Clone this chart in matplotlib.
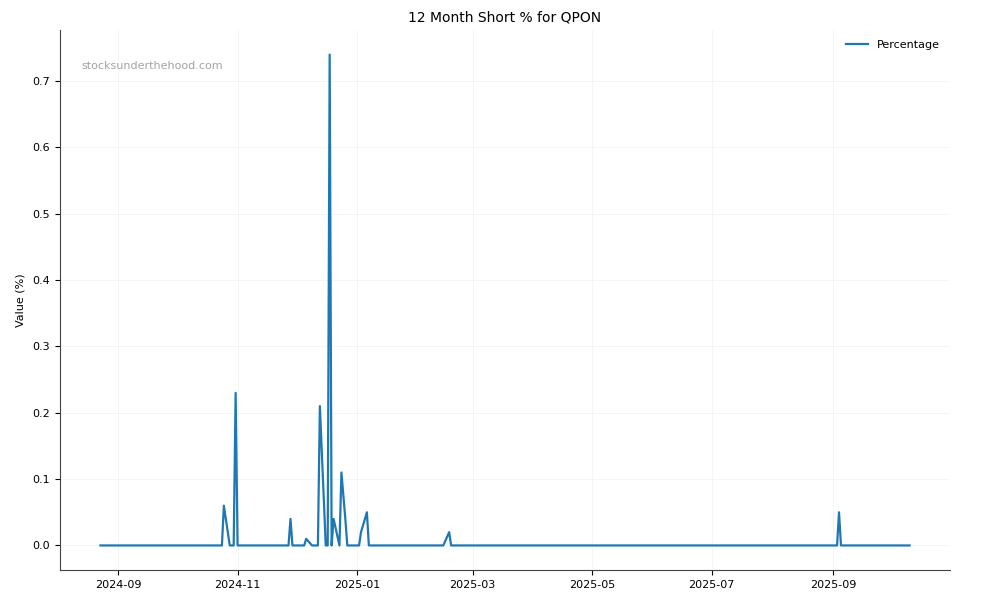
import matplotlib
matplotlib.use("Agg")
import matplotlib.pyplot as plt
import matplotlib.dates as mdates
import pandas as pd

# trading days shown (market holidays left out)
start_date = "2024-08-23"
end_date = "2025-10-10"
holidays = ["2024-12-25", "2025-01-01"]

# days with a non-zero short %, every other trading day reads 0.0
spike_dates = ["2024-10-25", "2024-10-31", "2024-11-28", "2024-12-06",
               "2024-12-13", "2024-12-18", "2024-12-20", "2024-12-24",
               "2024-12-26", "2025-01-03", "2025-01-06", "2025-02-17",
               "2025-09-04"]
spike_values = [0.06, 0.23, 0.04, 0.01,
                0.21, 0.74, 0.04, 0.11,
                0.04, 0.02, 0.05, 0.02,
                0.05]

days = pd.bdate_range(start_date, end_date)
days = days[~days.isin(pd.to_datetime(holidays))]
pct = pd.Series(0.0, index=days)
pct.loc[pd.to_datetime(spike_dates)] = spike_values

fig, ax = plt.subplots(figsize=(10, 6), dpi=100)
fig.subplots_adjust(left=0.06, right=0.95, top=0.95, bottom=0.05)

ax.plot(pct.index, pct.values, color="#1f77b4", lw=1.6, label="Percentage")

ax.set_title("12 Month Short % for QPON", fontsize=10)
ax.set_ylabel("Value (%)", fontsize=8, labelpad=5)
ax.tick_params(labelsize=8)
ax.xaxis.set_major_locator(mdates.MonthLocator(bymonth=[1, 3, 5, 7, 9, 11]))
ax.xaxis.set_major_formatter(mdates.DateFormatter("%Y-%m"))
ax.grid(True, alpha=0.15, lw=0.6)
for s in ("top", "right"):
    ax.spines[s].set_visible(False)
for s in ("left", "bottom"):
    ax.spines[s].set_color("#444444")

ax.text(0.024, 0.933, "stocksunderthehood.com", transform=ax.transAxes,
        fontsize=8, color="#999999", alpha=0.9, va="center")
ax.legend(loc="upper right", frameon=False, fontsize=8)

fig.savefig("out.png", dpi=100)
